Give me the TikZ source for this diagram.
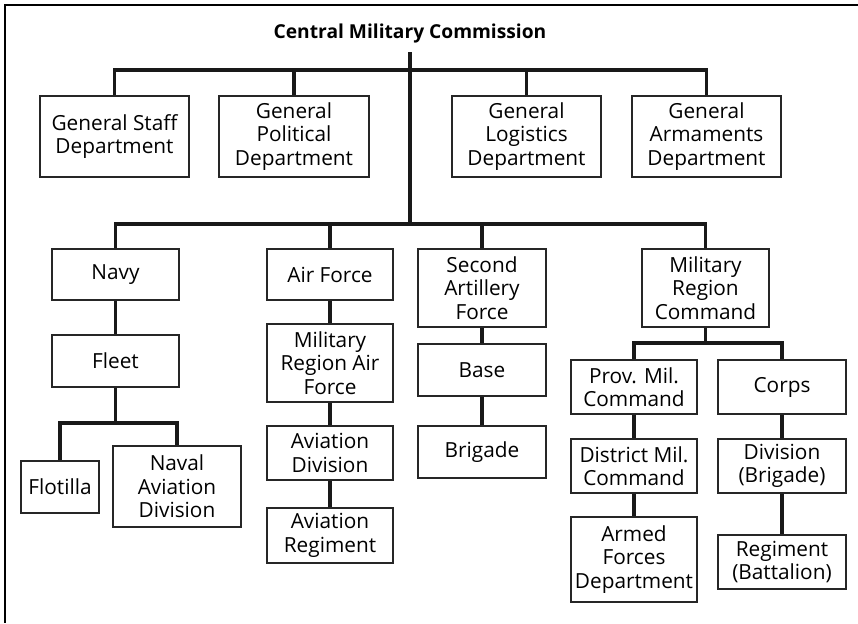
\documentclass[tikz,border=0pt]{standalone}
\usepackage{fontspec}
\setsansfont{Open Sans}
\usetikzlibrary{positioning}

\begin{document}
\begin{tikzpicture}[x=0.5pt,y=-0.5pt]
\tikzstyle{unit} = [draw=black!85, line width=0.6pt, align=center, inner sep=1pt, font=\sffamily\fontsize{10.4}{11.7}\selectfont]
\tikzstyle{title} = [inner sep=1pt, font=\sffamily\bfseries\fontsize{9.6}{11.7}\selectfont]
\tikzstyle{link} = [line width=1.6pt, black!90]
\tikzstyle{frame} = [line width=1.4pt, black]

\useasboundingbox (0,0) rectangle (858,623);
\draw[frame] (4,5) -- (858,5);
\draw[frame] (5,4) -- (5,623);

\node[title] (cmc) at (410,34) {Central Military Commission};

\node[unit, minimum width=74.5pt, minimum height=40.5pt] (gsd) at (114.5,136.5) {General Staff\\Department};
\node[unit, minimum width=75pt, minimum height=40.5pt] (gpd) at (294,136.5) {General\\Political\\Department};
\node[unit, minimum width=74.5pt, minimum height=40.5pt] (gld) at (526.5,136.5) {General\\Logistics\\Department};
\node[unit, minimum width=74.5pt, minimum height=40.5pt] (gad) at (706.5,136.5) {General\\Armaments\\Department};

\node[unit, minimum width=63.5pt, minimum height=25.5pt] (navy) at (115.5,274.5) {Navy};
\node[unit, minimum width=63.5pt, minimum height=26pt] (fleet) at (115.5,361) {Fleet};
\node[unit, minimum width=39pt, minimum height=26pt] (flotilla) at (60,487) {Flotilla};
\node[unit, minimum width=64pt, minimum height=40.5pt] (nad) at (177,486.5) {Naval\\Aviation\\Division};

\node[unit, minimum width=63pt, minimum height=25.5pt] (af) at (330,274.5) {Air Force};
\node[unit, minimum width=63pt, minimum height=39pt] (mraf) at (330,363) {Military\\Region Air\\Force};
\node[unit, minimum width=63pt, minimum height=27pt] (adiv) at (330,453) {Aviation\\Division};
\node[unit, minimum width=63pt, minimum height=27.5pt] (areg) at (330,535.5) {Aviation\\Regiment};

\node[unit, minimum width=64pt, minimum height=39pt] (saf) at (482,288) {Second\\Artillery\\Force};
\node[unit, minimum width=64pt, minimum height=26pt] (base) at (482,370) {Base};
\node[unit, minimum width=64pt, minimum height=26pt] (brig) at (482,452) {Brigade};

\node[unit, minimum width=63.5pt, minimum height=39pt] (mrc) at (705.5,288) {Military\\Region\\Command};
\node[unit, minimum width=63pt, minimum height=27pt] (pmc) at (634,387) {Prov. Mil.\\Command};
\node[unit, minimum width=63pt, minimum height=27pt] (dmc) at (634,466) {District Mil.\\Command};
\node[unit, minimum width=63pt, minimum height=42.5pt] (afd) at (634,559.5) {Armed\\Forces\\Department};
\node[unit, minimum width=64pt, minimum height=27pt] (corps) at (782,387) {Corps};
\node[unit, minimum width=64pt, minimum height=27pt] (divb) at (782,466) {Division\\(Brigade)};
\node[unit, minimum width=64pt, minimum height=27pt] (regb) at (782,562) {Regiment\\(Battalion)};

\coordinate (bus1) at (410,70);
\coordinate (bus2) at (410,224);
\coordinate (fleetbus) at (115.5,423);
\coordinate (mrcbus) at (705.5,343);

\draw[link] ([yshift=-3pt]cmc.south) -- (bus2);
\draw[link] (gsd.north) |- (bus1) -| (gad.north);
\draw[link] (gpd.north) -- (gpd.north |- bus1);
\draw[link] (gld.north) -- (gld.north |- bus1);

\draw[link] (navy.north) |- (bus2) -| (mrc.north);
\draw[link] (af.north) -- (af.north |- bus2);
\draw[link] (saf.north) -- (saf.north |- bus2);

\draw[link] (navy) -- (fleet);
\draw[link] (fleet) -- (fleetbus);
\draw[link] (flotilla.north) |- (fleetbus) -| (nad.north);

\draw[link] (af) -- (mraf);
\draw[link] (mraf) -- (adiv);
\draw[link] (adiv) -- (areg);

\draw[link] (saf) -- (base);
\draw[link] (base) -- (brig);

\draw[link] (mrc) -- (mrcbus);
\draw[link] (pmc.north) |- (mrcbus) -| (corps.north);
\draw[link] (pmc) -- (dmc);
\draw[link] (dmc) -- (afd);
\draw[link] (corps) -- (divb);
\draw[link] (divb) -- (regb);
\end{tikzpicture}
\end{document}
